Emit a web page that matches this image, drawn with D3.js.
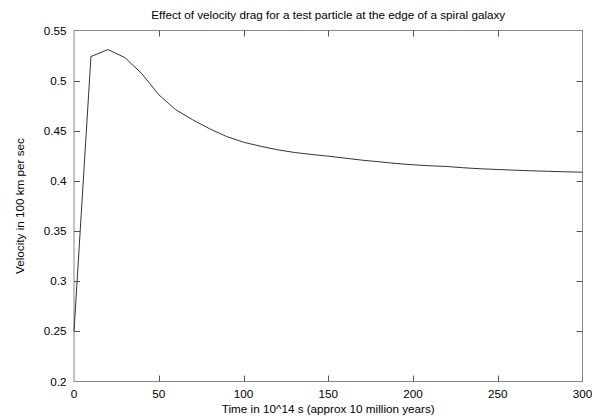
<!DOCTYPE html>
<html><head><meta charset="utf-8">
<script src="https://cdn.jsdelivr.net/npm/d3@7"></script>
<style>body{margin:0;background:#fff}svg{display:block}text{font-family:"Liberation Sans",Arial,sans-serif;fill:#000}</style>
</head><body>
<svg id="c" width="592" height="418"></svg>
<script>
const times = [0,10,20,30,40,50,60,70,80,90,100,110,120,130,140,150,160,170,180,190,200,210,220,230,240,250,260,270,280,290,300];
const velocity = [0.25,0.524,0.531,0.523,0.507,0.486,0.471,0.461,0.452,0.4443,0.4386,0.4346,0.4311,0.4284,0.4264,0.4247,0.4227,0.4207,0.4191,0.4174,0.4161,0.4151,0.4144,0.4131,0.4121,0.4114,0.4107,0.4101,0.4096,0.4091,0.4087];
const xTicks = [0,50,100,150,200,250,300];
const yTicks = [0.2,0.25,0.3,0.35,0.4,0.45,0.5,0.55];
const title = "Effect of velocity drag for a test particle at the edge of a spiral galaxy";
const xLabel = "Time in 10^14 s (approx 10 million years)";
const yLabel = "Velocity in 100 km per sec";

const svg = d3.select("#c");
const L=74, R=582.5, T=30.5, B=381.5;
const x = d3.scaleLinear().domain([0,300]).range([L,R]);
const y = d3.scaleLinear().domain([0.2,0.55]).range([B,T]);
const tl = 6;
const fs = 11.7;

// box
svg.append("rect").attr("x",L).attr("y",T).attr("width",R-L).attr("height",B-T)
  .attr("fill","none").attr("stroke","#888").attr("stroke-width",1);

// ticks (inward, mirrored)
const tg = svg.append("g").attr("stroke","#555").attr("stroke-width",1);
xTicks.forEach(v=>{
  const px = Math.round(x(v))+0.5;
  if (v>0 && v<300) {
    tg.append("line").attr("x1",px).attr("x2",px).attr("y1",B).attr("y2",B-tl);
    tg.append("line").attr("x1",px).attr("x2",px).attr("y1",T).attr("y2",T+tl);
  }
});
yTicks.forEach(v=>{
  const py = Math.round(y(v))+0.5;
  if (v>0.2001 && v<0.5499) {
    tg.append("line").attr("x1",L).attr("x2",L+tl).attr("y1",py).attr("y2",py);
    tg.append("line").attr("x1",R).attr("x2",R-tl).attr("y1",py).attr("y2",py);
  }
});

// tick labels
svg.append("g").selectAll("text").data(xTicks).join("text")
  .attr("x",d=>x(d)).attr("y",B+16).attr("text-anchor","middle")
  .attr("font-size",fs).text(d=>d);
svg.append("g").selectAll("text").data(yTicks).join("text")
  .attr("x",66.5).attr("y",d=>y(d)+4).attr("text-anchor","end")
  .attr("font-size",fs).text(d=>d3.format("")(+d.toFixed(2)));

// line
const pts = times.map((t,i)=>[t,velocity[i]]);
svg.append("path").datum(pts)
  .attr("fill","none").attr("stroke","#333").attr("stroke-width",1)
  .attr("d", d3.line().x(d=>x(d[0])).y(d=>y(d[1])));

// labels
svg.append("text").attr("x",(L+R)/2).attr("y",19).attr("text-anchor","middle").attr("font-size",fs).text(title);
svg.append("text").attr("x",(L+R)/2).attr("y",413).attr("text-anchor","middle").attr("font-size",fs).text(xLabel);
svg.append("text").attr("transform",`translate(23.5,${(T+B)/2}) rotate(-90)`).attr("text-anchor","middle").attr("font-size",fs).text(yLabel);
</script>
</body></html>
